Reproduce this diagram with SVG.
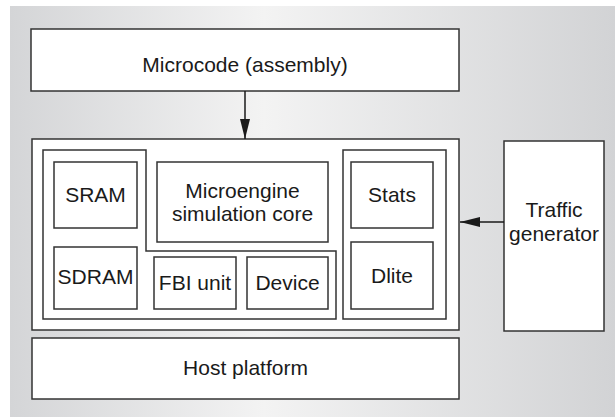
<svg xmlns="http://www.w3.org/2000/svg" width="615" height="417" viewBox="0 0 615 417">
  <defs>
    <linearGradient id="bg" x1="0" y1="0" x2="1" y2="0">
      <stop offset="0" stop-color="#d4d5d7"/>
      <stop offset="0.42" stop-color="#f3f3f3"/>
      <stop offset="1" stop-color="#d2d3d5"/>
    </linearGradient>
    <marker id="arrow" markerWidth="20" markerHeight="10" refX="20" refY="5" orient="auto" markerUnits="userSpaceOnUse">
      <path d="M0,0 L20,5 L0,10 Z" fill="#1a1a1a"/>
    </marker>
    <style>
      .box { fill: #ffffff; stroke: #333333; stroke-width: 1.5; }
      .group { fill: none; stroke: #333333; stroke-width: 1.5; }
      .label { font-family: "Liberation Sans", Arial, sans-serif; font-size: 21px; fill: #1a1a1a; text-anchor: middle; }
      .link { stroke: #1a1a1a; stroke-width: 1.5; fill: none; }
    </style>
  </defs>

  <!-- background panel -->
  <rect x="10" y="6" width="605" height="411" fill="url(#bg)"/>

  <g id="microcode">
    <rect class="box" x="31" y="29" width="428" height="62"/>
    <text class="label" x="245" y="72">Microcode (assembly)</text>
  </g>

  <g id="simulator">
    <rect class="box" x="32" y="139" width="427" height="191"/>
  </g>

  <g id="memory-group">
    <path class="group" d="M43,150 H146 V251 H336 V319 H43 Z"/>
  </g>

  <g id="sram">
    <rect class="box" x="54" y="162" width="83" height="66"/>
    <text class="label" x="95.5" y="202">SRAM</text>
  </g>

  <g id="sdram">
    <rect class="box" x="54" y="247" width="83" height="62"/>
    <text class="label" x="95.5" y="284">SDRAM</text>
  </g>

  <g id="microengine">
    <rect class="box" x="157" y="162" width="171" height="80"/>
    <text class="label" x="242.5" y="198">Microengine</text>
    <text class="label" x="242.5" y="221">simulation core</text>
  </g>

  <g id="fbi-unit">
    <rect class="box" x="154" y="257" width="82" height="52"/>
    <text class="label" x="195" y="290">FBI unit</text>
  </g>

  <g id="device">
    <rect class="box" x="247" y="257" width="81" height="52"/>
    <text class="label" x="287.5" y="290">Device</text>
  </g>

  <g id="tools-group">
    <rect class="group" x="343" y="150" width="103" height="169"/>
  </g>

  <g id="stats">
    <rect class="box" x="351" y="162" width="82" height="66"/>
    <text class="label" x="392" y="202">Stats</text>
  </g>

  <g id="dlite">
    <rect class="box" x="351" y="242" width="82" height="67"/>
    <text class="label" x="392" y="283">Dlite</text>
  </g>

  <g id="traffic-generator">
    <rect class="box" x="504" y="141" width="100" height="190"/>
    <text class="label" x="554" y="217">Traffic</text>
    <text class="label" x="554" y="241">generator</text>
  </g>

  <g id="host-platform">
    <rect class="box" x="32" y="338" width="427" height="61"/>
    <text class="label" x="245.5" y="375">Host platform</text>
  </g>

  <g id="connectors">
    <line class="link" x1="245" y1="91" x2="245" y2="139" marker-end="url(#arrow)"/>
    <line class="link" x1="504" y1="222" x2="460" y2="222" marker-end="url(#arrow)"/>
  </g>
</svg>
